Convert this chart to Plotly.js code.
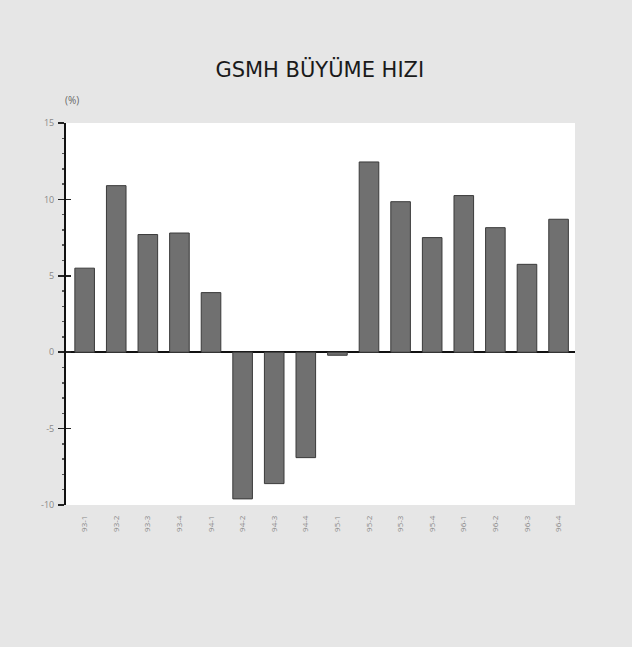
<!DOCTYPE html>
<html>
<head>
<meta charset="utf-8">
<script src="https://cdn.plot.ly/plotly-3.0.1.min.js"></script>
<style>html,body{margin:0;padding:0;background:#e6e6e6;}</style>
</head>
<body>
<div id="chart" style="width:632px;height:647px;"></div>
<script>
const quarters = ["93-1","93-2","93-3","93-4","94-1","94-2","94-3","94-4","95-1","95-2","95-3","95-4","96-1","96-2","96-3","96-4"];
const growth = [5.5, 10.9, 7.7, 7.8, 3.9, -9.6, -8.6, -6.9, -0.2, 12.45, 9.85, 7.5, 10.25, 8.15, 5.75, 8.7];
const yTickVals = [15, 10, 5, 0, -5, -10];
const yTickText = ["15", "10", "5", "0", "-5", "-10"];

const trace = {
  type: "bar",
  x: quarters,
  y: growth,
  marker: {color: "#707070", line: {color: "#3a3a3a", width: 1}},
  hoverinfo: "x+y"
};
// invisible trace for the overlaid inner-tick axis
const ghost = {type: "scatter", x: [quarters[0]], y: [0], yaxis: "y2", mode: "markers", marker: {opacity: 0}, hoverinfo: "skip", showlegend: false};

const layout = {
  width: 632, height: 647,
  margin: {l: 66, r: 57, t: 123, b: 142},
  paper_bgcolor: "#e6e6e6",
  plot_bgcolor: "#ffffff",
  showlegend: false,
  bargap: 0.38,
  font: {family: "Open Sans, DejaVu Sans, sans-serif", color: "#777"},
  title: {text: "GSMH BÜYÜME HIZI", x: 0.506, xanchor: "center", y: 0.892, yanchor: "middle",
          font: {family: "DejaVu Sans, sans-serif", size: 21, color: "#1a1a1a"}},
  xaxis: {
    type: "category",
    range: [-0.59, 15.52],
    showline: false, showgrid: false, zeroline: false, ticks: "",
    tickangle: -90,
    ticklabelstandoff: 8,
    tickfont: {size: 8, color: "#888"},
    fixedrange: true
  },
  yaxis: {
    range: [-10, 15],
    tickvals: yTickVals, ticktext: yTickText,
    ticks: "outside", ticklen: 6, tickwidth: 1.5, tickcolor: "#222",
    minor: {dtick: 1, ticks: "outside", ticklen: 2, tickcolor: "#555", showgrid: false},
    showline: true, linecolor: "#111", linewidth: 2,
    showgrid: false,
    zeroline: true, zerolinecolor: "#111", zerolinewidth: 1.6,
    tickfont: {size: 9, color: "#888"},
    ticklabelstandoff: 2,
    fixedrange: true
  },
  yaxis2: {
    overlaying: "y", range: [-10, 15],
    tickvals: yTickVals, ticks: "inside", ticklen: 5, tickwidth: 1.5, tickcolor: "#222",
    showticklabels: false, showgrid: false, zeroline: false, showline: false,
    fixedrange: true
  },
  annotations: [
    {text: "(%)", xref: "paper", yref: "paper", x: -0.005, y: 1.06, xanchor: "left", yanchor: "middle",
     showarrow: false, font: {size: 10, color: "#666"}}
  ]
};

Plotly.newPlot("chart", [trace, ghost], layout, {displayModeBar: false, staticPlot: true});
</script>
</body>
</html>
